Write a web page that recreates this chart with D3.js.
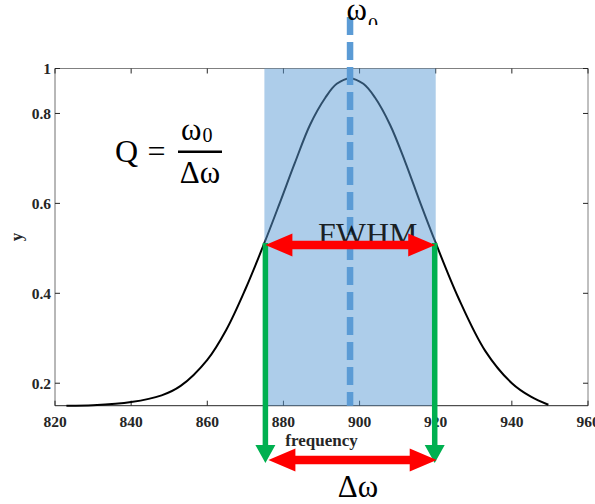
<!DOCTYPE html>
<html>
<head>
<meta charset="utf-8">
<script src="https://cdn.jsdelivr.net/npm/d3@7"></script>
<style>
  html, body { margin: 0; padding: 0; background: #fff; }
  svg { display: block; }
  .tick-label { font-family: "Liberation Serif", "Times New Roman", serif; font-weight: bold; fill: #262626; }
  .math { font-family: "Liberation Serif", "Times New Roman", serif; fill: #000; }
</style>
</head>
<body>
<svg id="chart" width="595" height="504"></svg>
<script>
// Resonance curve samples (frequency, response)
const frequency = [823, 830, 840, 848, 853, 860, 865, 870, 875, 879, 883, 887, 891, 894, 897.5, 901, 904, 908, 912, 916, 920, 926, 933, 940, 945, 949.6];
const response  = [0.150, 0.151, 0.158, 0.173, 0.194, 0.252, 0.319, 0.409, 0.512, 0.600, 0.690, 0.775, 0.835, 0.866, 0.878, 0.866, 0.836, 0.775, 0.692, 0.600, 0.512, 0.389, 0.272, 0.200, 0.170, 0.152];

// Characteristic points of the peak
const peakFreq = 897.5;
const halfFreqs = [875, 920];
const halfValue = 0.512;

// Axis ticks
const xTicks = [820, 840, 860, 880, 900, 920, 940, 960];
const xTickLabels = ["820", "840", "860", "880", "900", "920", "940", "960"];
const yTicks = [0.2, 0.4, 0.6, 0.8, 0.9];
const yTickLabels = ["0.2", "0.4", "0.6", "0.8", "1"];

const svg = d3.select("#chart");
const plot = { left: 55, right: 588, top: 68.5, bottom: 405.7 };

const x = d3.scaleLinear().domain([820, 960]).range([plot.left, plot.right]);
const y = d3.scaleLinear().domain([0.15, 0.9]).range([plot.bottom, plot.top]);

// Box axes with inward ticks on every side
const tickLen = 5;
const axes = svg.append("g");
axes.append("line").attr("x1", plot.left).attr("x2", plot.right).attr("y1", plot.top).attr("y2", plot.top).attr("stroke", "#808080");
axes.append("line").attr("x1", plot.right).attr("x2", plot.right).attr("y1", plot.top).attr("y2", plot.bottom).attr("stroke", "#808080");
axes.append("line").attr("x1", plot.left).attr("x2", plot.left).attr("y1", plot.top).attr("y2", plot.bottom).attr("stroke", "#707070");
axes.append("line").attr("x1", plot.left).attr("x2", plot.right).attr("y1", plot.bottom).attr("y2", plot.bottom).attr("stroke", "#262626");

axes.selectAll(".xt-b").data(xTicks).join("line")
  .attr("class", "xt-b")
  .attr("x1", d => x(d)).attr("x2", d => x(d))
  .attr("y1", plot.bottom).attr("y2", plot.bottom - tickLen).attr("stroke", "#262626");
axes.selectAll(".xt-t").data(xTicks).join("line")
  .attr("class", "xt-t")
  .attr("x1", d => x(d)).attr("x2", d => x(d))
  .attr("y1", plot.top).attr("y2", plot.top + tickLen).attr("stroke", "#262626");
axes.selectAll(".yt-l").data(yTicks).join("line")
  .attr("class", "yt-l")
  .attr("x1", plot.left).attr("x2", plot.left + tickLen)
  .attr("y1", d => y(d)).attr("y2", d => y(d)).attr("stroke", "#262626");
axes.selectAll(".yt-r").data(yTicks).join("line")
  .attr("class", "yt-r")
  .attr("x1", plot.right).attr("x2", plot.right - tickLen)
  .attr("y1", d => y(d)).attr("y2", d => y(d)).attr("stroke", "#262626");

svg.append("g").selectAll("text").data(xTicks).join("text")
  .attr("class", "tick-label")
  .attr("x", d => x(d)).attr("y", 427)
  .attr("text-anchor", "middle").attr("font-size", 15.5)
  .text((d, i) => xTickLabels[i]);

svg.append("g").selectAll("text").data(yTicks).join("text")
  .attr("class", "tick-label")
  .attr("x", plot.left - 4).attr("y", d => y(d) + 5.5)
  .attr("text-anchor", "end").attr("font-size", 15.5)
  .text((d, i) => yTickLabels[i]);

svg.append("text").attr("class", "tick-label")
  .attr("x", (plot.left + plot.right) / 2).attr("y", 446)
  .attr("text-anchor", "middle").attr("font-size", 17)
  .text("frequency");

svg.append("text").attr("class", "tick-label")
  .attr("transform", `translate(21.5, ${(plot.top + plot.bottom) / 2}) rotate(-90)`)
  .attr("text-anchor", "middle").attr("font-size", 17)
  .text("y");

// Response curve
const line = d3.line().x(d => x(d[0])).y(d => y(d[1])).curve(d3.curveCatmullRom.alpha(0.5));
svg.append("path")
  .datum(frequency.map((f, i) => [f, response[i]]))
  .attr("d", line)
  .attr("fill", "none").attr("stroke", "#000").attr("stroke-width", 2);

// Half-maximum band
svg.append("rect")
  .attr("x", x(halfFreqs[0])).attr("width", x(halfFreqs[1]) - x(halfFreqs[0]))
  .attr("y", plot.top).attr("height", plot.bottom - plot.top)
  .attr("fill", "#5b9bd5").attr("fill-opacity", 0.5);

// Resonance frequency marker
svg.append("line")
  .attr("x1", x(peakFreq)).attr("x2", x(peakFreq))
  .attr("y1", 17).attr("y2", plot.bottom)
  .attr("stroke", "#5b9bd5").attr("stroke-width", 6.5)
  .attr("stroke-dasharray", "18,7");

svg.append("clipPath").attr("id", "topclip")
  .append("rect").attr("x", 0).attr("y", 0).attr("width", 595).attr("height", 25);
const w0 = svg.append("text").attr("class", "math").attr("clip-path", "url(#topclip)")
  .attr("x", x(peakFreq) - 3.5).attr("y", 19.5).attr("font-size", 31);
w0.append("tspan").text("ω");
w0.append("tspan").attr("font-size", 20).attr("dx", 1).attr("dy", 12).text("0");

// FWHM label
svg.append("text").attr("class", "math")
  .attr("x", 318).attr("y", 245).attr("font-size", 32).attr("fill-opacity", 0.85)
  .text("FWHM");

// Arrow helpers
function doubleArrow(x1, x2, cy, shaft, headLen, headHalf, color) {
  const pts = [
    [x1, cy], [x1 + headLen, cy - headHalf], [x1 + headLen, cy - shaft / 2],
    [x2 - headLen, cy - shaft / 2], [x2 - headLen, cy - headHalf], [x2, cy],
    [x2 - headLen, cy + headHalf], [x2 - headLen, cy + shaft / 2],
    [x1 + headLen, cy + shaft / 2], [x1 + headLen, cy + headHalf]
  ];
  svg.append("path").attr("d", "M" + pts.join("L") + "Z").attr("fill", color);
}
function downArrow(cx, y1, y2, shaft, headLen, headHalf, color) {
  const pts = [
    [cx - shaft / 2, y1], [cx + shaft / 2, y1], [cx + shaft / 2, y2 - headLen],
    [cx + headHalf, y2 - headLen], [cx, y2], [cx - headHalf, y2 - headLen],
    [cx - shaft / 2, y2 - headLen]
  ];
  svg.append("path").attr("d", "M" + pts.join("L") + "Z").attr("fill", color);
}

const xl = x(halfFreqs[0]) + 1, xr = x(halfFreqs[1]) - 0.5;
halfFreqs.forEach(f => downArrow(x(f) + (f === halfFreqs[0] ? 1 : -1), y(halfValue), 463, 5.5, 18, 10, "#00b050"));
doubleArrow(xl, xr, y(halfValue) + 2, 8.5, 27, 11.5, "#ff0000");
doubleArrow(xl + 3, xr + 1.5, 460, 8.5, 27, 11.5, "#ff0000");

// Δω label
svg.append("text").attr("class", "math")
  .attr("x", 358).attr("y", 497).attr("text-anchor", "middle").attr("font-size", 31)
  .text("Δω");

// Quality factor formula
svg.append("text").attr("class", "math")
  .attr("x", 115).attr("y", 162).attr("font-size", 32).text("Q");
svg.append("text").attr("class", "math")
  .attr("x", 156.5).attr("y", 162).attr("text-anchor", "middle").attr("font-size", 32).text("=");
svg.append("line")
  .attr("x1", 178).attr("x2", 222).attr("y1", 151.7).attr("y2", 151.7)
  .attr("stroke", "#000").attr("stroke-width", 2.5);
const num = svg.append("text").attr("class", "math")
  .attr("x", 181).attr("y", 140).attr("font-size", 31);
num.append("tspan").text("ω");
num.append("tspan").attr("font-size", 20).attr("dy", 1.5).attr("dx", 1).text("0");
svg.append("text").attr("class", "math")
  .attr("x", 200).attr("y", 182.5).attr("text-anchor", "middle").attr("font-size", 31)
  .text("Δω");
</script>
</body>
</html>
